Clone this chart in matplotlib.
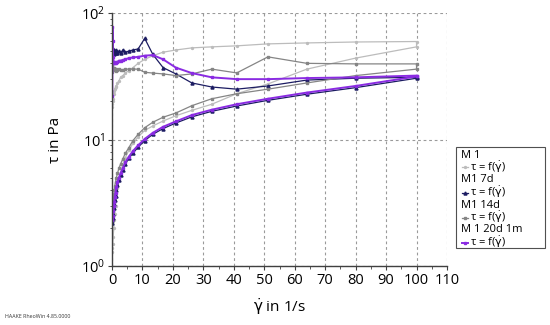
import matplotlib as mpl

mpl.use("Agg")
import matplotlib.pyplot as plt
from matplotlib.lines import Line2D
from matplotlib.patches import Rectangle
from matplotlib.ticker import FixedLocator, LogLocator, NullFormatter

FONT = "Open Sans"
plt.rcParams.update({
    "font.family": [FONT, "DejaVu Sans"],
    "font.size": 10,
    "mathtext.fontset": "dejavusans",
})

# shear rate steps (log-spaced ramp), 1/s
RATE = [0.1, 0.15, 0.24, 0.38, 0.59, 0.74, 0.92, 1.15, 1.44, 1.8, 2.25, 2.81, 3.52, 4.4,
        5.5, 6.87, 8.59, 10.74, 13.42, 16.78, 20.97, 26.21, 32.77, 40.96, 51.2, 64, 80, 100]

# shear stress, Pa -- upper branch (ramp up) and lower branch (ramp down), same RATE order
M1_UP = [18, 19, 20, 21, 23, 24, 25, 26, 26.5, 28, 29, 31, 32, 33.5,
         35, 37, 40, 43, 46, 49, 51, 53, 54, 55, 57, 58, 59, 59.5]
M1_DOWN = [1.3, 1.4, 1.5, 1.7, 2.0, 2.3, 2.6, 3.0, 3.5, 4.1, 4.8, 5.5, 6.3, 7.2,
           8.2, 9.3, 10.5, 11.8, 12.8, 14, 15.4, 17, 19, 23, 27.5, 36, 44, 54]

M1_7D_UP = [40, 48, 52, 49, 51, 47, 50, 48, 51, 48, 50, 48, 51, 49,
            50, 51, 52, 63, 47, 37, 33, 28, 26, 25, 26.5, 29.5, 30.5, 31]
M1_7D_DOWN = [2.2, 2.3, 2.4, 2.6, 2.9, 3.1, 3.3, 3.6, 4.0, 4.4, 4.8, 5.2, 5.7, 6.4,
              7.1, 7.8, 8.7, 9.8, 11.0, 12.2, 13.5, 15.1, 16.7, 18.4, 20.4, 22.8, 25.7, 30.5]

M1_14D_UP = [34, 38, 37, 36, 37, 35.5, 36, 35, 36, 35.5, 36, 35.5, 35.5, 36,
             36, 36, 36, 34, 33.5, 33, 32, 33, 36, 33.6, 45, 40, 39.6, 39.6]
M1_14D_DOWN = [2.8, 2.9, 3.1, 3.4, 3.7, 4.0, 4.3, 4.6, 5.0, 5.4, 5.9, 6.4, 7.0, 7.8,
               8.6, 9.8, 11, 12.4, 13.7, 15, 16.2, 18.5, 21, 23, 25, 28, 32, 36]

M1_20D_UP = [22, 78, 60, 45, 41, 40, 40, 41, 40, 41, 42, 42, 42.5, 43,
             44, 44.5, 45, 46, 46.5, 43, 37, 33.5, 31, 30, 30, 30.6, 31, 32]
M1_20D_DOWN = [2.3, 2.4, 2.5, 2.7, 3.0, 3.2, 3.5, 3.8, 4.2, 4.6, 5.0, 5.4, 5.9, 6.6,
               7.3, 8.1, 9.0, 10.1, 11.3, 12.6, 13.9, 15.6, 17.2, 19, 21, 23.5, 26.5, 31.5]

SAMPLES = ["M 1", "M1 7d", "M1 14d", "M 1 20d 1m"]
SERIES = [(M1_UP, M1_DOWN), (M1_7D_UP, M1_7D_DOWN), (M1_14D_UP, M1_14D_DOWN),
          (M1_20D_UP, M1_20D_DOWN)]
STYLES = [
    dict(color="#bcbcbc", marker="o", ms=1.4, lw=0.9),
    dict(color="#1c1c62", marker="^", ms=2.2, lw=0.9),
    dict(color="#858585", marker="s", ms=1.7, lw=0.9),
    dict(color="#8a2be2", marker="s", ms=2.0, lw=1.4),
]
GDOT = r"$\dot{\mathrm{\gamma}}$"
ENTRY = "τ = f(" + GDOT + ")"
AXIS_INK = "#404040"


def draw_curves(ax):
    for (up, down), st in zip(SERIES, STYLES):
        xs = RATE + RATE[::-1]
        ys = up + down[::-1]
        ax.plot(xs, ys, color=st["color"], lw=st["lw"], marker=st["marker"],
                ms=st["ms"], mec=st["color"], mfc=st["color"])


def style_axes(ax):
    ax.set_yscale("log")
    ax.set_xlim(0, 110)
    ax.set_ylim(1, 100)
    ax.xaxis.set_major_locator(FixedLocator(range(0, 111, 10)))
    ax.xaxis.set_minor_locator(FixedLocator(range(5, 111, 10)))
    ax.yaxis.set_major_locator(LogLocator(base=10))
    ax.yaxis.set_minor_locator(LogLocator(base=10, subs=range(2, 10)))
    ax.yaxis.set_minor_formatter(NullFormatter())
    ax.grid(True, which="major", color="#9a9a9a", ls=(0, (2.5, 2.5)), lw=0.8)
    for side in ("top", "right"):
        ax.spines[side].set_visible(False)
    for side in ("left", "bottom"):
        ax.spines[side].set_color(AXIS_INK)
        ax.spines[side].set_linewidth(1.0)
    ax.tick_params(which="major", length=3, color=AXIS_INK, labelsize=10.5, pad=2)
    ax.tick_params(which="minor", length=1.8, color=AXIS_INK)
    ax.set_xlabel(GDOT + " in 1/s", fontsize=11, labelpad=6)
    ax.set_ylabel("τ in Pa", fontsize=11, labelpad=13)


def draw_legend(fig):
    W, H = 550.0, 325.0
    left, right, top, bottom = 456, 545, 147, 248
    fig.patches.append(Rectangle((left / W, 1 - bottom / H), (right - left) / W,
                                 (bottom - top) / H, transform=fig.transFigure,
                                 fc="white", ec="#505050", lw=0.8))
    row = 12.5
    y = top + 8
    for name, st in zip(SAMPLES, STYLES):
        fig.text(461 / W, 1 - y / H, name, fontsize=8, va="center", ha="left")
        y += row
        fig.add_artist(Line2D([462 / W, 468 / W], [1 - y / H, 1 - y / H],
                              transform=fig.transFigure, color=st["color"],
                              lw=st["lw"]))
        fig.add_artist(Line2D([465 / W], [1 - y / H], transform=fig.transFigure,
                              color=st["color"], marker=st["marker"], ms=st["ms"]))
        fig.text(470 / W, 1 - y / H, ENTRY, fontsize=8, va="center", ha="left")
        y += row


def build(path):
    fig = plt.figure(figsize=(5.5, 3.25), dpi=100, facecolor="white")
    ax = fig.add_axes([112 / 550, 1 - 266 / 325, 335 / 550, 253 / 325])
    draw_curves(ax)
    style_axes(ax)
    draw_legend(fig)
    fig.text(5 / 550, 1 - 317 / 325, "HAAKE RheoWin 4.85.0000", fontsize=3.8,
             color="#333333", va="center")
    fig.savefig(path, dpi=100, facecolor="white")
    plt.close(fig)


if __name__ == "__main__":
    build("out.png")
